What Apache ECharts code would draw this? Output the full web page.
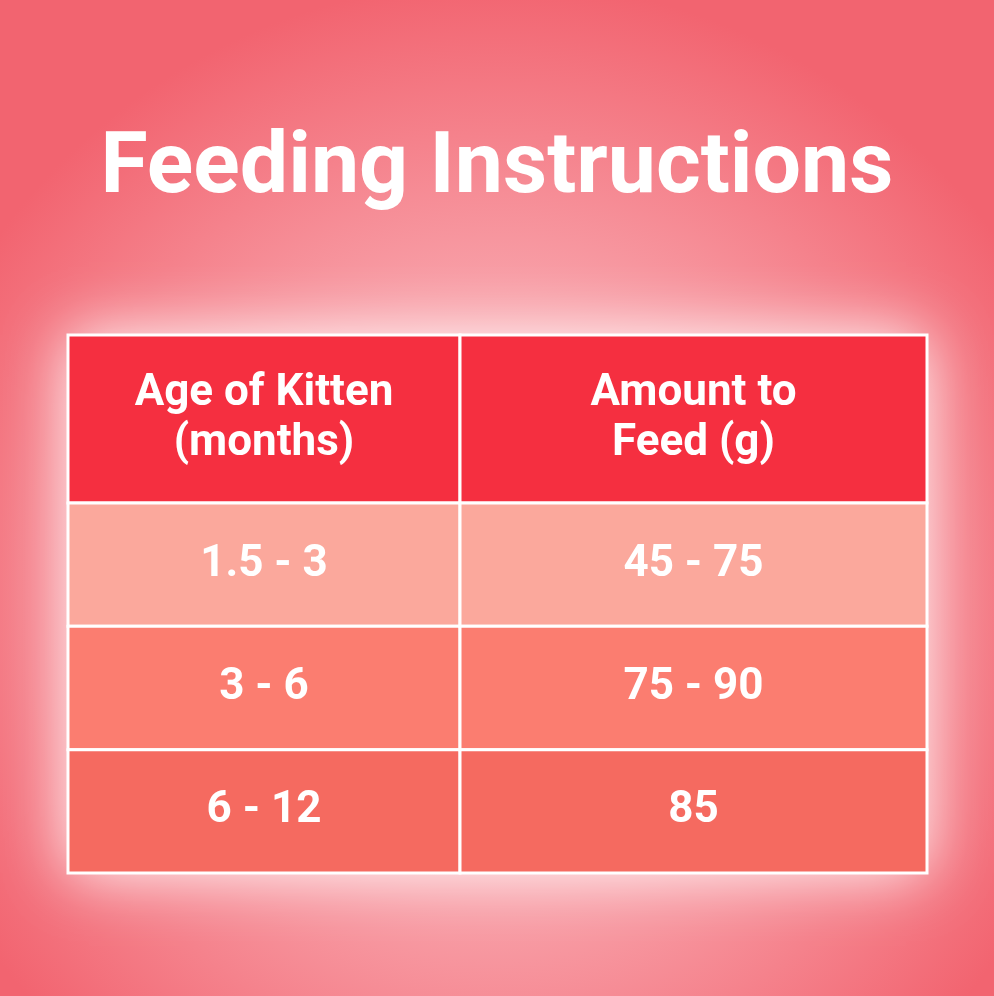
<!DOCTYPE html>
<html>
<head>
<meta charset="utf-8">
<script src="https://cdn.jsdelivr.net/npm/echarts@6/dist/echarts.min.js"></script>
<style>html,body{margin:0;padding:0}#chart{width:994px;height:996px}</style>
</head>
<body>
<div id="chart"></div>
<script>
const title = 'Feeding Instructions';
const headers = ['Age of Kitten\n(months)', 'Amount to\nFeed (g)'];
const ages = ['1.5 - 3', '3 - 6', '6 - 12'];
const amounts = ['45 - 75', '75 - 90', '85'];
const rowColors = ['#fba89c', '#fb7d70', '#f56a60'];

const chart = echarts.init(document.getElementById('chart'));

function cellRenderer(fill) {
  return function (params, api) {
    const row = api.value(1);
    const c = api.coord([0, row]);
    const s = api.size([1, 1]);
    const color = typeof fill === 'function' ? fill(row) : fill;
    return {
      type: 'group',
      children: [
        {
          type: 'rect',
          shape: { x: c[0] - s[0] / 2, y: c[1] - s[1] / 2, width: s[0], height: s[1] },
          style: { fill: color, stroke: '#ffffff', lineWidth: 3 }
        },
        {
          type: 'text', x: c[0], y: c[1],
          style: {
            text: api.value(2), fill: '#ffffff', align: 'center', verticalAlign: 'middle',
            font: 'bold 44px Roboto, "Noto Sans", sans-serif', lineHeight: 50
          }
        }
      ]
    };
  };
}

const columns = [ages, amounts];
// column boxes (layout only)
const colBox = [{ left: 68, width: 392 }, { left: 460, width: 467 }];
const rowBox = [{ top: 335, height: 168 }, { top: 503, height: 370 }];

const grids = [], xAxes = [], yAxes = [], series = [];
columns.forEach((vals, ci) => {
  // header grid
  [0, 1].forEach(part => {
    const gi = grids.length;
    grids.push(Object.assign({}, colBox[ci], rowBox[part]));
    xAxes.push({ type: 'category', data: [0], show: false, gridIndex: gi });
    const n = part === 0 ? 1 : vals.length;
    yAxes.push({ type: 'category', data: Array.from({ length: n }, (_, i) => i), inverse: true, show: false, gridIndex: gi });
    series.push({
      type: 'custom', xAxisIndex: gi, yAxisIndex: gi, z: 5,
      renderItem: cellRenderer(part === 0 ? '#f52f40' : (r => rowColors[r])),
      data: part === 0 ? [[0, 0, headers[ci]]] : vals.map((v, r) => [0, r, v])
    });
  });
});

chart.setOption({
  backgroundColor: {
    type: 'radial', x: 0.5, y: 0.6, r: 0.62,
    colorStops: [
      { offset: 0, color: '#fcd0d4' },
      { offset: 0.5, color: '#f8a0a8' },
      { offset: 1, color: '#f26470' }
    ]
  },
  title: {
    text: title, left: 'center', top: 122,
    textStyle: { color: '#ffffff', fontSize: 86, fontWeight: 'bold', fontFamily: 'Roboto, sans-serif' }
  },
  graphic: [{
    type: 'rect', z: 0,
    shape: { x: 68, y: 335, width: 859, height: 538 },
    style: { fill: '#ffffff', shadowBlur: 60, shadowColor: 'rgba(255,255,255,0.95)' }
  }],
  grid: grids,
  xAxis: xAxes,
  yAxis: yAxes,
  series
});
</script>
</body>
</html>
